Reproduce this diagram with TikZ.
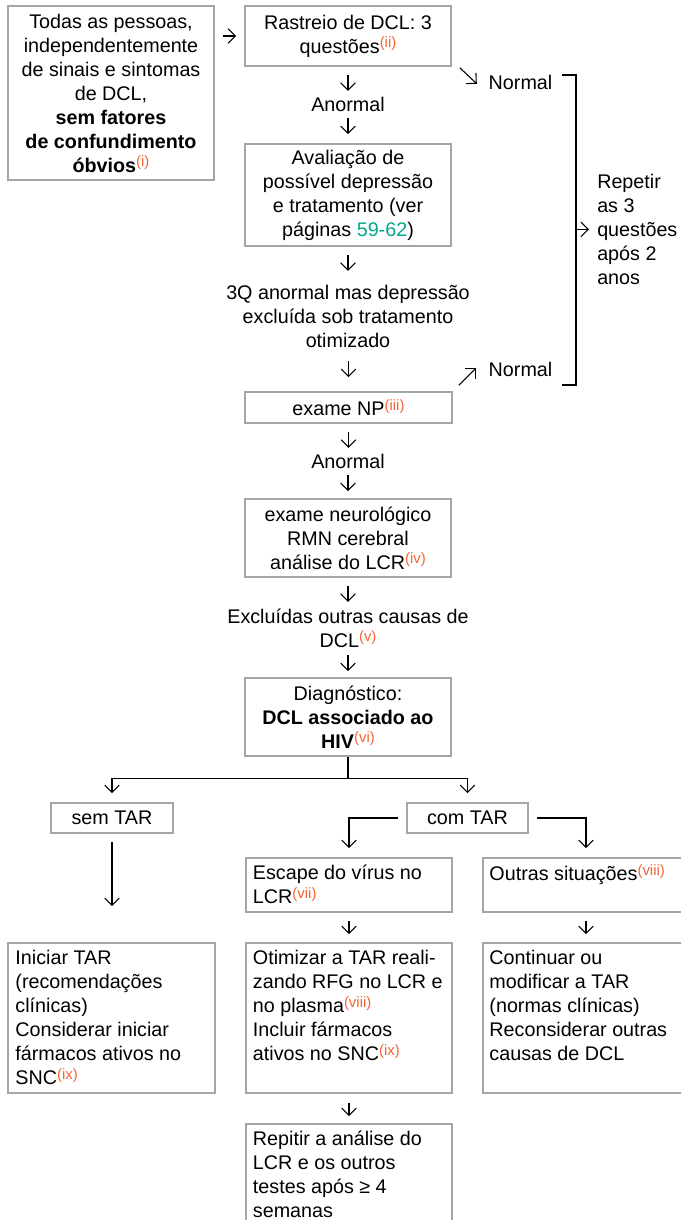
\documentclass[tikz,border=0pt]{standalone}
\usepackage{fontspec}
\setmainfont{Liberation Sans}
\usetikzlibrary{arrows.meta,calc}
\definecolor{bordergray}{RGB}{165,165,165}
\definecolor{supor}{RGB}{245,100,50}
\definecolor{linkteal}{RGB}{0,168,140}
\newcommand\fs{\fontsize{14.8}{18}\selectfont}
\newcommand\sref[1]{\raisebox{4pt}{\fontsize{11.2}{11.2}\selectfont\textcolor{supor}{(#1)}}}
\newcommand\fstrut{\vrule height 11pt depth 0pt width 0pt}
\begin{document}
\begin{tikzpicture}[x=0.75pt,y=-0.75pt,
  box/.style={draw=bordergray, line width=1.2pt, inner sep=0pt, font=\fs, align=center},
  txt/.style={inner sep=0pt, font=\fs, align=center},
  txtl/.style={inner sep=0pt, font=\fs, align=left},
  arr/.style={line width=0.8pt, -{Straight Barb[length=5.5pt,width=11pt]}},
  brk/.style={line width=0.9pt}]
\useasboundingbox (0,0) rectangle (681,1220);
\clip (0,0) rectangle (681,1220);

% main column
\node[box, minimum width=154.5pt, minimum height=130.5pt] (b1) at (111,93)
  {Todas as pessoas,\\ independentemente\\ de sinais e sintomas\\ de DCL,\\ \textbf{sem fatores}\\ \textbf{de confundimento}\\ \textbf{óbvios}\sref{i}};
\node[box, minimum width=154.5pt, minimum height=45pt] (b2) at (348,36)
  {Rastreio de DCL: 3\\ questões\sref{ii}};
\node[txt] (an1) at (348,104) {Anormal};
\node[box, minimum width=154.5pt, minimum height=76.5pt] (b3) at (348,195)
  {Avaliação de\\ possível depressão\\ e tratamento (ver\\ páginas \textcolor{linkteal}{59-62})};
\node[txt] (q3) at (348,316) {3Q anormal mas depressão\\ excluída sob tratamento\\ otimizado};
\node[box, minimum width=155.25pt, minimum height=23.25pt] (np) at (348.5,407.5) {exame NP\sref{iii}};
\node[txt] (an2) at (348,461) {Anormal};
\node[box, minimum width=154.5pt, minimum height=58.5pt] (neu) at (348,538)
  {exame neurológico\\ RMN cerebral\\ análise do LCR\sref{iv}};
\node[txt] (exc) at (348,628) {Excluídas outras causas de\\ DCL\sref{v}};
\node[box, minimum width=154.5pt, minimum height=58.5pt] (diag) at (348,717)
  {Diagnóstico:\\ \textbf{DCL associado ao}\\ \textbf{HIV}\sref{vi}};
\node[box, minimum width=91.5pt, minimum height=22.5pt] (sem) at (112,818) {sem TAR};
\node[box, minimum width=90.75pt, minimum height=22.5pt] (com) at (467.5,818) {com TAR};

% boxes with top-left text
\node[box, minimum width=154.5pt, minimum height=40.5pt] (esc) at (349,885) {};
\node[txtl, anchor=north west] (esct) at ($(esc.north west)+(7.5,7.3)$)
  {\fstrut Escape do vírus no\\ LCR\sref{vii}};
\node[box, minimum width=154.5pt, minimum height=40.5pt] (out) at (586,885) {};
\node[txtl, anchor=north west] (outt) at ($(out.north west)+(7,7.3)$)
  {\fstrut Outras situações\sref{viii}};
\node[box, minimum width=155.25pt, minimum height=112.5pt] (ini) at (111.5,1018) {};
\node[txtl, anchor=north west] (init) at ($(ini.north west)+(8,7.3)$)
  {\fstrut Iniciar TAR\\ (recomendações\\ clínicas)\\ Considerar iniciar\\ fármacos ativos no\\ SNC\sref{ix}};
\node[box, minimum width=154.5pt, minimum height=112.5pt] (oti) at (349,1018) {};
\node[txtl, anchor=north west] (otit) at ($(oti.north west)+(7.5,7.3)$)
  {\fstrut Otimizar a TAR reali-\\ zando RFG no LCR e\\ no plasma\sref{viii}\\ Incluir fármacos\\ ativos no SNC\sref{ix}};
\node[box, minimum width=154.5pt, minimum height=112.5pt] (con) at (586,1018) {};
\node[txtl, anchor=north west] (cont) at ($(con.north west)+(7,7.3)$)
  {\fstrut Continuar ou\\ modificar a TAR\\ (normas clínicas)\\ Reconsiderar outras\\ causas de DCL};
\node[box, minimum width=154.5pt, minimum height=87pt] (rpt) at (349,1182) {};
\node[txtl, anchor=north west] (rptt) at ($(rpt.north west)+(7.5,7.3)$)
  {\fstrut Repitir a análise do\\ LCR e os outros\\ testes após ≥ 4\\ semanas};

% right side
\node[txt] (n1) at (520.5,82) {Normal};
\node[txt] (n2) at (520.5,369) {Normal};
\node[txtl, anchor=west] (rep) at (597,229.4) {Repetir\\ as 3\\ questões\\ após 2\\ anos};
\coordinate (bt) at (562,75);
\coordinate (bb) at (562,385);
\coordinate (bm) at (576,229.4);
\draw[brk] (bt) -- ++(14,0) |- (bb);
\draw[arr, shorten >=6pt] (bm) -- (rep.west);

% arrows
\draw[arr, shorten <=6pt, shorten >=6pt] (b1.east |- b2.west) -- (b2.west);
\draw[arr] ($(b2.south east)+(8,1)$) -- ++(17,16);
\draw[arr] ($(np.north east)+(6,-6)$) -- ++(17,-17);
\draw[arr] ($(b2.south)+(0,8)$) -- ($(b2.south)+(0,24)$);
\draw[arr] ($(b3.north)+(0,-25)$) -- ($(b3.north)+(0,-9)$);
\draw[arr] ($(b3.south)+(0,8)$) -- ($(b3.south)+(0,24)$);
\draw[arr] ($(np.north)+(0,-30)$) -- ($(np.north)+(0,-14)$);
\draw[arr] ($(np.south)+(0,8)$) -- ($(np.south)+(0,24)$);
\draw[arr] ($(neu.north)+(0,-23)$) -- ($(neu.north)+(0,-7)$);
\draw[arr] ($(neu.south)+(0,8)$) -- ($(neu.south)+(0,24)$);
\draw[arr] ($(diag.north)+(0,-22)$) -- ($(diag.north)+(0,-6)$);

\draw[arr, shorten >=6.75pt] (diag.south) -- ++(0,22) -| (sem.north);
\draw[arr, shorten >=6.75pt] (diag.south) -- ++(0,22) -| (com.north);
\draw[arr, shorten <=6pt, shorten >=27pt] (sem.south) -- (sem.south |- ini.north);
\draw[arr, shorten <=6pt, shorten >=6.75pt] (com.west) -| (esc.north);
\draw[arr, shorten <=6pt, shorten >=6.75pt] (com.east) -| (out.north);
\draw[arr, shorten <=6pt, shorten >=6pt] (esc.south) -- (oti.north);
\draw[arr, shorten <=6pt, shorten >=6pt] (out.south) -- (con.north);
\draw[arr, shorten <=6.75pt, shorten >=5.25pt] (oti.south) -- (rpt.north);
\end{tikzpicture}
\end{document}
